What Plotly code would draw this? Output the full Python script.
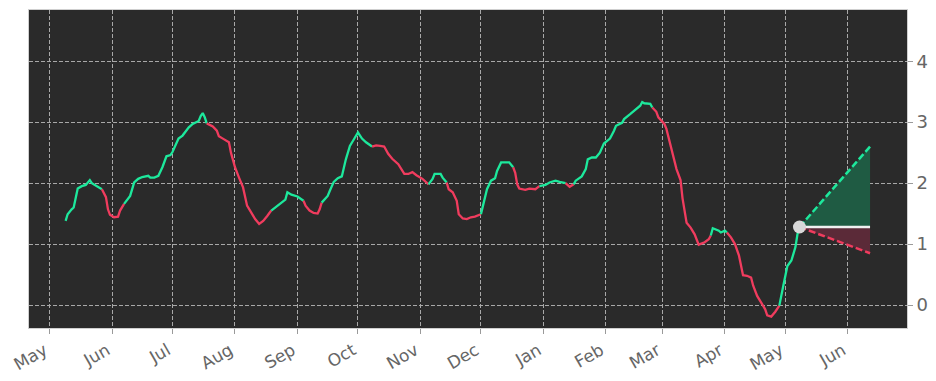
import plotly.graph_objects as go

# ---------------- data ----------------
dates = [
    "2022-05-09", "2022-05-10", "2022-05-12", "2022-05-13", "2022-05-15", "2022-05-17", "2022-05-19",
    "2022-05-21", "2022-05-22", "2022-05-24", "2022-05-27",
    "2022-05-29", "2022-05-30", "2022-05-31", "2022-06-02", "2022-06-04", "2022-06-05", "2022-06-07",
    "2022-06-08", "2022-06-10", "2022-06-12", "2022-06-14", "2022-06-16", "2022-06-19", "2022-06-20",
    "2022-06-22", "2022-06-24", "2022-06-26", "2022-06-28", "2022-06-30", "2022-07-01", "2022-07-03",
    "2022-07-04", "2022-07-06", "2022-07-09", "2022-07-11", "2022-07-14", "2022-07-15", "2022-07-16",
    "2022-07-17", "2022-07-18",
    "2022-07-21", "2022-07-23", "2022-07-24", "2022-07-26", "2022-07-29", "2022-07-30", "2022-08-01",
    "2022-08-03", "2022-08-05", "2022-08-07", "2022-08-09", "2022-08-11", "2022-08-13", "2022-08-15",
    "2022-08-17", "2022-08-19",
    "2022-08-22", "2022-08-24", "2022-08-26", "2022-08-27", "2022-08-29", "2022-09-01", "2022-09-03",
    "2022-09-04",
    "2022-09-05", "2022-09-07", "2022-09-09", "2022-09-11", "2022-09-12", "2022-09-13",
    "2022-09-16", "2022-09-17", "2022-09-19", "2022-09-21", "2022-09-23", "2022-09-25", "2022-09-27",
    "2022-09-29", "2022-10-01", "2022-10-03", "2022-10-05", "2022-10-08",
    "2022-10-10", "2022-10-12", "2022-10-14", "2022-10-16", "2022-10-18", "2022-10-21", "2022-10-24",
    "2022-10-26", "2022-10-28", "2022-10-30", "2022-11-02", "2022-11-04", "2022-11-05",
    "2022-11-07", "2022-11-08", "2022-11-11", "2022-11-12", "2022-11-14",
    "2022-11-15", "2022-11-17", "2022-11-19", "2022-11-20", "2022-11-22", "2022-11-24", "2022-11-26",
    "2022-11-28", "2022-12-01",
    "2022-12-02", "2022-12-04", "2022-12-06", "2022-12-08", "2022-12-09", "2022-12-11", "2022-12-13",
    "2022-12-15", "2022-12-17",
    "2022-12-18", "2022-12-19", "2022-12-20", "2022-12-23", "2022-12-25", "2022-12-28", "2022-12-30",
    "2023-01-02", "2023-01-04", "2023-01-07", "2023-01-09", "2023-01-11", "2023-01-12",
    "2023-01-14", "2023-01-16",
    "2023-01-17", "2023-01-20", "2023-01-22", "2023-01-23", "2023-01-25", "2023-01-27", "2023-01-29",
    "2023-01-31", "2023-02-01", "2023-02-03", "2023-02-05", "2023-02-06", "2023-02-09", "2023-02-10",
    "2023-02-13", "2023-02-15", "2023-02-18", "2023-02-19", "2023-02-20", "2023-02-23", "2023-02-24",
    "2023-02-26", "2023-02-27", "2023-03-02", "2023-03-03", "2023-03-05", "2023-03-07", "2023-03-08",
    "2023-03-10", "2023-03-11", "2023-03-13", "2023-03-15", "2023-03-17", "2023-03-19", "2023-03-22",
    "2023-03-24", "2023-03-25",
    "2023-03-26", "2023-03-29", "2023-03-30", "2023-04-01", "2023-04-02",
    "2023-04-04", "2023-04-06", "2023-04-08", "2023-04-10", "2023-04-12", "2023-04-14", "2023-04-15",
    "2023-04-17", "2023-04-19", "2023-04-21", "2023-04-22", "2023-04-24", "2023-04-26", "2023-04-28",
    "2023-04-29", "2023-04-30", "2023-05-02", "2023-05-04", "2023-05-06", "2023-05-07", "2023-05-08",
]

values = [
    1.38, 1.49, 1.57, 1.60, 1.91, 1.95, 1.97, 2.05, 2.00, 1.96, 1.90,
    1.77, 1.57, 1.48, 1.44, 1.45, 1.55, 1.66,
    1.71, 1.79, 2.01, 2.07, 2.10, 2.12, 2.09, 2.09, 2.12, 2.26, 2.44, 2.46, 2.51, 2.67,
    2.73, 2.78, 2.91, 2.97, 3.02, 3.10, 3.15, 3.08, 2.98,
    2.93, 2.86, 2.77, 2.73, 2.67, 2.50, 2.26, 2.09, 1.93, 1.63, 1.52, 1.41, 1.33, 1.38, 1.46, 1.55,
    1.63, 1.68, 1.73, 1.85, 1.81, 1.78, 1.74, 1.71,
    1.63, 1.55, 1.51, 1.50, 1.57, 1.68,
    1.79, 1.87, 2.02, 2.08, 2.11, 2.39, 2.61, 2.72, 2.83, 2.73, 2.67, 2.60,
    2.62, 2.61, 2.60, 2.48, 2.40, 2.31, 2.15, 2.15, 2.18, 2.13, 2.07, 2.01, 1.98,
    2.07, 2.15, 2.15, 2.09, 2.01,
    1.90, 1.85, 1.71, 1.49, 1.42, 1.41, 1.44, 1.45, 1.49,
    1.63, 1.90, 2.04, 2.08, 2.20, 2.34, 2.34, 2.34, 2.26,
    2.17, 1.98, 1.91, 1.89, 1.91, 1.90, 1.95,
    1.97, 2.01, 2.04, 2.02, 2.00, 2.00,
    1.94, 1.98,
    2.04, 2.11, 2.23, 2.39, 2.42, 2.42, 2.50, 2.65, 2.68, 2.73, 2.86, 2.94, 2.99, 3.05,
    3.13, 3.19, 3.27, 3.33, 3.31, 3.30, 3.24,
    3.17, 3.08, 2.97, 2.89, 2.64, 2.39, 2.23, 2.05, 1.75, 1.35, 1.27, 1.16, 0.99, 1.03, 1.08, 1.14,
    1.26, 1.22, 1.19, 1.22, 1.19,
    1.11, 1.00, 0.81, 0.49, 0.48, 0.45, 0.32, 0.15, 0.04, -0.07, -0.17, -0.19, -0.11, -0.01,
    0.13, 0.32, 0.64, 0.73, 0.95, 1.16, 1.28,
]

# trend of the segment that ends at each point ("up" = green, "down" = red)
trend = (
    ["up"] * 11 + ["down"] * 7 + ["up"] * 23 + ["down"] * 16 + ["up"] * 8 + ["down"] * 6 +
    ["up"] * 12 + ["down"] * 13 + ["up"] * 5 + ["down"] * 9 + ["up"] * 9 + ["down"] * 7 +
    ["up"] * 6 + ["down"] * 2 + ["up"] * 21 + ["down"] * 16 + ["up"] * 5 + ["down"] * 14 +
    ["up"] * 7
)

projection_date = "2023-06-12"
projection_high = 2.60
projection_low = 0.85

x_range = ["2022-04-20 20:00", "2023-06-30 08:00"]
y_range = [-0.377, 4.84]
y_ticks = [0, 1, 2, 3, 4]

# ---------------- styles ----------------
GREEN = "#1de89c"
RED = "#f03c5e"
GREEN_FILL = "#1f5b43"
RED_FILL = "#5b2a38"
BG = "#2a2a2a"
GRID = "#a8a8a8"
TXT = "#666666"

fig = go.Figure()

# split the line into coloured runs (runs share their boundary point)
runs = []
cur = [0]
for i in range(1, len(values)):
    if trend[i] == trend[i - 1]:
        cur.append(i)
    else:
        runs.append((trend[i - 1], cur))
        cur = [i - 1, i]
runs.append((trend[-1], cur))

last_date = dates[-1]
last_val = values[-1]

# projection fills
fig.add_trace(go.Scatter(
    x=[last_date, projection_date, projection_date, last_date],
    y=[last_val, projection_high, last_val, last_val],
    fill="toself", fillcolor=GREEN_FILL, mode="lines", line=dict(width=0),
    hoverinfo="skip", showlegend=False))
fig.add_trace(go.Scatter(
    x=[last_date, projection_date, projection_date, last_date],
    y=[last_val, projection_low, last_val, last_val],
    fill="toself", fillcolor=RED_FILL, mode="lines", line=dict(width=0),
    hoverinfo="skip", showlegend=False))

for tr, idx in runs:
    fig.add_trace(go.Scatter(
        x=[dates[j] for j in idx], y=[values[j] for j in idx],
        mode="lines", line=dict(color=GREEN if tr == "up" else RED, width=2.3),
        hoverinfo="skip", showlegend=False))

fig.add_trace(go.Scatter(
    x=[last_date, projection_date], y=[last_val, last_val], mode="lines",
    line=dict(color="#f0f0f0", width=2.5), showlegend=False, hoverinfo="skip"))
fig.add_trace(go.Scatter(
    x=[last_date, projection_date], y=[last_val, projection_high], mode="lines",
    line=dict(color=GREEN, width=2.5, dash="7px,3px"), showlegend=False, hoverinfo="skip"))
fig.add_trace(go.Scatter(
    x=[last_date, projection_date], y=[last_val, projection_low], mode="lines",
    line=dict(color=RED, width=2.5, dash="7px,3px"), showlegend=False, hoverinfo="skip"))
fig.add_trace(go.Scatter(
    x=[last_date], y=[last_val], mode="markers",
    marker=dict(color="#d8d8d8", size=13, line=dict(width=0)), showlegend=False, hoverinfo="skip"))

# the page body has an 8px margin, so the figure is sized/offset to compensate
fig.update_layout(
    width=928, height=373,
    margin=dict(l=21, r=29, t=2, b=53, autoexpand=False),
    paper_bgcolor="white", plot_bgcolor=BG,
    font=dict(family="DejaVu Sans", color=TXT, size=17),
    showlegend=False,
)
fig.update_xaxes(
    range=x_range, type="date", dtick="M1", tick0="2022-05-01", tickformat="%b",
    tickangle=-30, ticks="outside", ticklen=5, tickcolor="#9a9a9a",
    ticklabelshift=-5,
    showgrid=True, gridcolor=GRID, gridwidth=0.8, griddash="4px,2px",
    showline=True, linecolor="#cfcfcf", linewidth=1, mirror=True, zeroline=False,
    tickfont=dict(size=17, color=TXT), automargin=False,
)
fig.update_yaxes(
    range=y_range, side="right", tickvals=y_ticks, ticks="outside", ticklen=5,
    tickcolor="#9a9a9a",
    showgrid=True, gridcolor=GRID, gridwidth=0.8, griddash="4px,2px",
    showline=True, linecolor="#cfcfcf", linewidth=1, mirror=True, zeroline=False,
    tickfont=dict(size=18, color=TXT), automargin=False,
)

fig.write_html("out.html")
